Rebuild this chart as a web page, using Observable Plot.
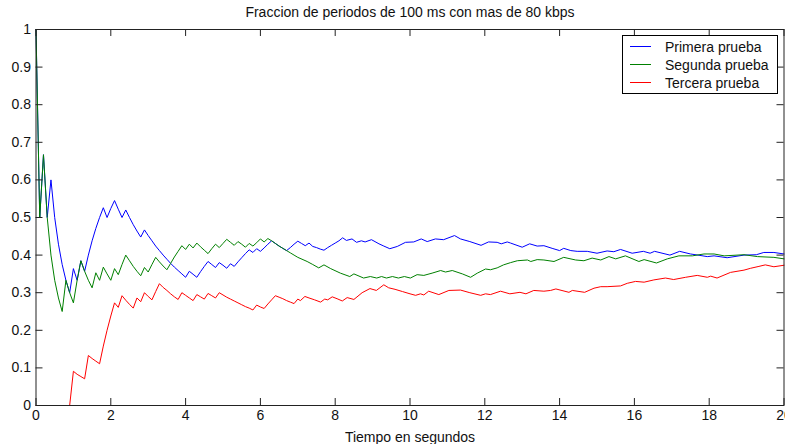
<!DOCTYPE html>
<html>
<head>
<meta charset="utf-8">
<script src="https://cdn.jsdelivr.net/npm/d3@7"></script>
<script src="https://cdn.jsdelivr.net/npm/@observablehq/plot@0.6"></script>
<style>
  html, body { margin: 0; padding: 0; background: #fff; }
  #wrap { position: relative; width: 785px; height: 444px; overflow: hidden; font-family: "Liberation Sans", Arial, sans-serif; }
  #legend { position: absolute; left: 622px; top: 35px; width: 156px; height: 59px; border: 1px solid #000; background: #fff; box-sizing: border-box; }
  #legend svg { display: block; }
</style>
</head>
<body>
<div id="wrap"></div>
<script>
const title = "Fraccion de periodos de 100 ms con mas de 80 kbps";
const xLabel = "Tiempo en segundos";
const seriesNames = ["Primera prueba", "Segunda prueba", "Tercera prueba"];
const seriesColors = ["#0000ff", "#008000", "#ff0000"];
const xTicks = [0, 2, 4, 6, 8, 10, 12, 14, 16, 18, 20];
const yTicks = [0, 0.1, 0.2, 0.3, 0.4, 0.5, 0.6, 0.7, 0.8, 0.9, 1];

// first 6 s, one value per 100 ms period
const tEarly = [0,0.1,0.2,0.3,0.4,0.5,0.6,0.7,0.8,0.9,1.0,1.1,1.2,1.3,1.4,1.5,1.6,1.7,1.8,1.9,2.0,2.1,2.2,2.3,2.4,2.5,2.6,2.7,2.8,2.9,3.0,3.1,3.2,3.3,3.4,3.5,3.6,3.7,3.8,3.9,4.0,4.1,4.2,4.3,4.4,4.5,4.6,4.7,4.8,4.9,5.0,5.1,5.2,5.3,5.4,5.5,5.6,5.7,5.8,5.9,6.0];
const primeraEarly = [1,0.5,0.667,0.5,0.6,0.5,0.429,0.375,0.333,0.3,0.364,0.333,0.385,0.357,0.4,0.438,0.471,0.5,0.526,0.5,0.524,0.545,0.522,0.5,0.52,0.5,0.481,0.464,0.448,0.467,0.452,0.438,0.424,0.412,0.4,0.389,0.378,0.368,0.359,0.35,0.341,0.357,0.349,0.341,0.356,0.37,0.383,0.375,0.367,0.38,0.373,0.365,0.377,0.37,0.382,0.393,0.404,0.414,0.407,0.417,0.41];
const segundaEarly = [1,0.5,0.667,0.5,0.4,0.333,0.286,0.25,0.333,0.3,0.273,0.333,0.385,0.357,0.333,0.313,0.353,0.333,0.368,0.35,0.333,0.364,0.348,0.375,0.4,0.385,0.37,0.357,0.345,0.367,0.355,0.375,0.394,0.382,0.371,0.361,0.378,0.395,0.41,0.425,0.415,0.429,0.419,0.432,0.422,0.413,0.404,0.417,0.429,0.42,0.431,0.442,0.434,0.426,0.436,0.429,0.421,0.431,0.424,0.433,0.443];
const terceraEarly = [0,0,0,0,0,0,0,0,0,0,0.091,0.083,0.077,0.071,0.133,0.125,0.118,0.111,0.158,0.2,0.238,0.273,0.261,0.292,0.28,0.269,0.259,0.286,0.276,0.3,0.29,0.281,0.303,0.324,0.314,0.306,0.297,0.289,0.282,0.3,0.293,0.286,0.279,0.295,0.289,0.283,0.298,0.292,0.286,0.3,0.294,0.288,0.283,0.278,0.273,0.268,0.263,0.259,0.254,0.267,0.262];

// after 6 s, read at the visible turning points
const primeraLateT = [6.1,6.2,6.3,6.4,6.5,6.6,6.7,6.8,6.9,7.0,7.1,7.2,7.3,7.4,7.5,7.6,7.7,7.8,7.9,8.0,8.1,8.2,8.3,8.45,8.57,8.7,8.8,8.97,9.17,9.3,9.46,9.66,9.88,10.1,10.3,10.46,10.68,10.9,11.19,11.35,11.6,11.9,12.1,12.33,12.44,12.6,12.69,13.0,13.2,13.4,13.58,13.8,14.0,14.11,14.3,14.47,14.74,15.0,15.27,15.45,15.63,15.94,16.24,16.42,16.54,16.95,17.21,17.5,17.7,17.95,18.13,18.48,18.93,19.26,19.46,19.73,20.0];
const primeraLateV = [0.419,0.429,0.438,0.431,0.424,0.418,0.412,0.42,0.429,0.437,0.431,0.425,0.432,0.423,0.42,0.416,0.413,0.42,0.426,0.432,0.438,0.446,0.439,0.443,0.434,0.438,0.435,0.441,0.43,0.424,0.417,0.423,0.434,0.435,0.443,0.436,0.443,0.441,0.452,0.443,0.436,0.426,0.435,0.434,0.43,0.435,0.432,0.421,0.43,0.424,0.425,0.418,0.412,0.418,0.412,0.41,0.41,0.405,0.411,0.409,0.415,0.405,0.41,0.405,0.41,0.4,0.41,0.403,0.4,0.396,0.398,0.393,0.4,0.401,0.407,0.407,0.403];
const segundaLateT = [6.1,6.2,6.3,6.4,6.5,6.6,6.7,6.8,6.9,7.0,7.25,7.4,7.56,7.7,7.88,8.14,8.39,8.5,8.76,8.94,9.11,9.24,9.37,9.53,9.69,9.85,10.01,10.19,10.37,10.59,10.82,10.95,11.13,11.4,11.62,11.8,12.02,12.15,12.33,12.5,12.69,12.87,13.14,13.23,13.4,13.58,13.85,14.11,14.43,14.65,14.87,15.1,15.32,15.5,15.76,16.12,16.26,16.59,16.88,17.19,17.55,17.86,18.13,18.4,18.93,19.29,19.73,20.0];
const segundaLateV = [0.435,0.444,0.438,0.431,0.424,0.418,0.412,0.406,0.4,0.394,0.383,0.375,0.366,0.374,0.364,0.352,0.343,0.35,0.339,0.343,0.339,0.343,0.339,0.343,0.339,0.343,0.339,0.348,0.346,0.352,0.359,0.355,0.359,0.35,0.341,0.352,0.363,0.361,0.366,0.374,0.38,0.385,0.387,0.383,0.388,0.387,0.383,0.394,0.387,0.385,0.392,0.387,0.396,0.39,0.398,0.383,0.388,0.379,0.39,0.398,0.398,0.403,0.403,0.398,0.401,0.396,0.394,0.39];
const terceraLateT = [6.1,6.2,6.3,6.4,6.5,6.6,6.7,6.8,6.9,7.0,7.07,7.19,7.3,7.45,7.61,7.72,7.8,7.92,8.05,8.19,8.32,8.5,8.72,8.93,9.1,9.3,9.43,9.6,9.8,10.0,10.15,10.28,10.37,10.5,10.77,11.04,11.35,11.6,11.89,12.02,12.15,12.42,12.67,12.94,13.1,13.31,13.58,13.76,13.9,14.25,14.34,14.67,14.92,15.1,15.27,15.63,15.81,16.03,16.26,16.52,16.83,17.05,17.37,17.68,17.95,18.04,18.21,18.57,18.93,19.11,19.33,19.5,19.73,20.0];
const terceraLateV = [0.258,0.27,0.281,0.292,0.288,0.284,0.279,0.275,0.271,0.283,0.279,0.29,0.286,0.281,0.275,0.283,0.281,0.289,0.284,0.278,0.287,0.282,0.3,0.311,0.306,0.321,0.313,0.309,0.303,0.297,0.293,0.297,0.294,0.304,0.295,0.306,0.307,0.3,0.293,0.297,0.295,0.304,0.297,0.301,0.297,0.306,0.304,0.306,0.31,0.301,0.306,0.301,0.312,0.316,0.316,0.318,0.325,0.33,0.328,0.334,0.339,0.335,0.341,0.346,0.341,0.344,0.339,0.354,0.36,0.365,0.37,0.374,0.369,0.373];

function build(name, vEarly, tLate, vLate) {
  const rows = tEarly.map((t, i) => ({series: name, t, v: vEarly[i]}));
  tLate.forEach((t, i) => rows.push({series: name, t, v: vLate[i]}));
  return rows;
}
const data = [
  ...build(seriesNames[0], primeraEarly, primeraLateT, primeraLateV),
  ...build(seriesNames[1], segundaEarly, segundaLateT, segundaLateV),
  ...build(seriesNames[2], terceraEarly, terceraLateT, terceraLateV)
];

const tickLenX = 0.187;  // ~7px in x units
const tickLenY = 0.0186; // ~7px in y units

const chart = Plot.plot({
  width: 785,
  height: 444,
  marginLeft: 35.5,
  marginRight: 1.5,
  marginTop: 29,
  marginBottom: 39,
  style: {fontFamily: "'Liberation Sans', Arial, sans-serif", fontSize: "14px", background: "#fff", color: "#111", overflow: "visible"},
  x: {domain: [0, 20], label: null},
  y: {domain: [0, 1], label: null},
  color: {domain: seriesNames, range: seriesColors},
  marks: [
    Plot.line(data, {x: "t", y: "v", z: "series", stroke: "series", strokeWidth: 1}),
    Plot.ruleX(xTicks, {x: d => d, y1: 0, y2: tickLenY, stroke: "#222"}),
    Plot.ruleX(xTicks, {x: d => d, y1: 1 - tickLenY, y2: 1, stroke: "#222"}),
    Plot.ruleY(yTicks, {y: d => d, x1: 0, x2: tickLenX, stroke: "#222"}),
    Plot.ruleY(yTicks, {y: d => d, x1: 20 - tickLenX, x2: 20, stroke: "#222"}),
    Plot.frame({stroke: "#222"}),
    Plot.axisX(xTicks, {tickSize: 0, tickPadding: 5, tickFormat: d => String(d), label: null, fontSize: 14}),
    Plot.axisY(yTicks, {tickSize: 0, tickPadding: 5, tickFormat: d => String(d), label: null, fontSize: 14}),
    Plot.text([title], {text: d => d, frameAnchor: "top", lineAnchor: "middle", dy: -17, fill: "#111", fontSize: 14}),
    Plot.text([xLabel], {text: d => d, frameAnchor: "bottom", lineAnchor: "middle", dy: 32, fill: "#111", fontSize: 14})
  ]
});

const wrap = document.getElementById("wrap");
wrap.appendChild(chart);

// legend box (inline SVG inside an absolutely positioned div)
const ns = "http://www.w3.org/2000/svg";
const legend = document.createElement("div");
legend.id = "legend";
const lsvg = document.createElementNS(ns, "svg");
lsvg.setAttribute("width", "154");
lsvg.setAttribute("height", "57");
seriesNames.forEach((name, i) => {
  const cy = 10.5 + i * 18;
  const ln = document.createElementNS(ns, "line");
  ln.setAttribute("x1", "7");
  ln.setAttribute("x2", "28");
  ln.setAttribute("y1", String(cy));
  ln.setAttribute("y2", String(cy));
  ln.setAttribute("stroke", seriesColors[i]);
  ln.setAttribute("stroke-width", "1");
  lsvg.appendChild(ln);
  const tx = document.createElementNS(ns, "text");
  tx.setAttribute("x", "42");
  tx.setAttribute("y", String(cy + 5));
  tx.setAttribute("font-family", "'Liberation Sans', Arial, sans-serif");
  tx.setAttribute("font-size", "14");
  tx.setAttribute("fill", "#111");
  tx.textContent = name;
  lsvg.appendChild(tx);
});
legend.appendChild(lsvg);
wrap.appendChild(legend);
</script>
</body>
</html>
